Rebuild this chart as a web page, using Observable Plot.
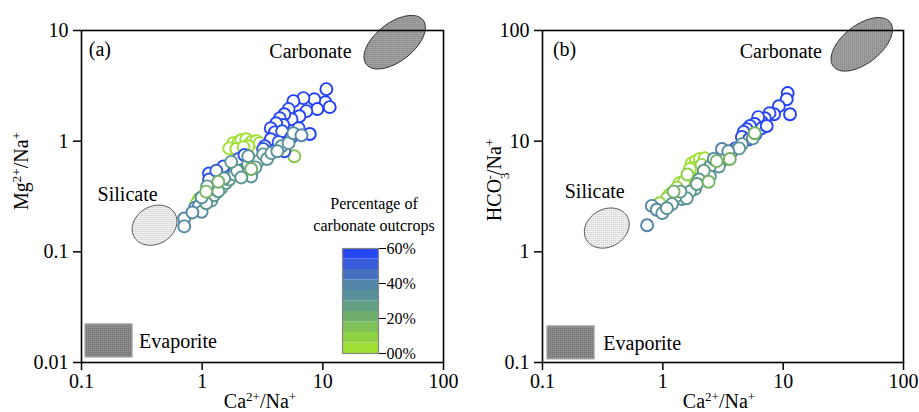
<!DOCTYPE html>
<html><head><meta charset="utf-8">
<script src="https://cdn.jsdelivr.net/npm/d3@7"></script>
<script src="https://cdn.jsdelivr.net/npm/@observablehq/plot@0.6"></script>
<style>
body{margin:0;background:#fff;}
#wrap{position:relative;width:919px;height:412px;font-family:"Liberation Serif",serif;}
#wrap > div{position:absolute;top:0;}
</style></head><body>
<svg width="0" height="0" style="position:absolute">
  <defs>
    <pattern id="stipCarb" width="2" height="2" patternUnits="userSpaceOnUse"><rect width="2" height="2" fill="#a6a6a6"/><rect width="1" height="1" fill="#707070"/></pattern>
    <pattern id="stipSil" width="2" height="2" patternUnits="userSpaceOnUse"><rect width="2" height="2" fill="#f2f2f2"/><rect width="1" height="1" fill="#c4c4c4"/></pattern>
    <pattern id="stipEvap" width="2" height="2" patternUnits="userSpaceOnUse"><rect width="2" height="2" fill="#8c8c8c"/><rect width="1" height="1" fill="#6c6c6c"/></pattern>
  </defs>
</svg>
<div id="wrap"><div id="pa" style="left:0"></div><div id="pb" style="left:460px"></div><div id="leg" style="left:342px;top:238px"></div></div>
<script>
// ---- Panel (a): Ca2+/Na+ vs Mg2+/Na+ ----
const caA  = [10.7,10.5,11.4,8.5,9.0,6.9,7.3,5.7,5.2,6.4,5.5,4.8,4.4,4.7,4.1,3.7,4.0,4.6,3.7,4.3,5.5,7.8,6.3,3.3,3.4,4.8,1.14,1.14,1.5,2.0,2.24,3.2,1.31,
  0.71,0.71,0.87,0.94,0.99,0.83,1.44,1.58,1.68,1.85,2.24,2.55,2.41,2.92,3.2,3.45,4.54,5.2,5.7,6.65,1.19,1.26,1.08,1.23,1.36,1.52,1.95,2.11,2.76,3.75,4.2,0.99,1.1,1.74,2.41,
  1.81,2.0,2.11,2.32,2.55,2.81,3.0,2.41,1.68,1.92,2.2,1.04,0.94,0.89,1.65,1.44,1.31,1.81,1.36,5.8,2.55,1.08];
const mgA  = [2.95,2.25,2.03,2.39,1.95,2.45,1.87,2.3,1.95,1.68,1.58,1.75,1.61,1.4,1.45,1.31,1.2,1.23,1.04,0.98,1.09,1.16,1.31,0.9,0.78,0.81,0.51,0.45,0.59,0.69,0.75,0.85,0.54,
  0.20,0.17,0.25,0.26,0.23,0.227,0.376,0.42,0.45,0.5,0.54,0.48,0.62,0.66,0.76,0.69,0.9,0.96,1.18,1.13,0.29,0.325,0.275,0.37,0.353,0.46,0.54,0.47,0.58,0.78,0.81,0.31,0.39,0.65,0.73,
  0.96,0.98,1.02,1.04,0.98,1.0,0.96,0.9,0.86,0.85,0.88,0.32,0.30,0.27,0.56,0.45,0.41,0.62,0.43,0.73,0.56,0.35];
const pctA = [60,58,60,58,60,57,58,60,55,58,56,58,55,57,58,56,58,55,57,55,58,60,57,55,52,55,55,55,55,52,55,52,50,
  38,38,40,40,35,38,30,30,28,30,30,32,30,30,32,30,35,33,35,38,30,32,30,28,30,30,30,30,32,32,33,35,30,30,32,
  3,2,3,2,3,2,4,3,3,4,3,8,8,5,10,12,10,8,20,12,20,18];

// ---- Panel (b): Ca2+/Na+ vs HCO3-/Na+ ----
const caB   = [10.9,10.7,11.4,9.2,8.4,7.7,7.05,6.65,6.2,5.8,5.3,5.0,4.7,4.54,5.2,5.9,4.0,3.75,6.65,7.3,
  4.54,4.3,5.6,3.1,3.3,2.92,2.46,2.46,2.19,2.0,1.85,1.68,1.44,1.31,1.19,0.81,0.89,0.99,0.74,1.08,1.58,2.65,3.5,1.92,1.4,
  1.74,1.88,2.03,2.23,1.8,1.68,1.38,1.5,1.31,1.14,1.08,0.94,2.1,1.6,3.6,5.8,2.4,2.8,1.23];
const hco3B = [27.2,23.9,17.5,20.7,17.5,17.9,16.1,14.9,16.5,14.3,13.7,12.8,12.1,10.9,10.4,11.6,8.6,8.1,13.1,13.7,
  9.4,8.6,10.6,8.5,6.9,5.9,5.9,4.8,5.4,4.5,3.7,3.5,3.0,3.2,2.7,2.6,2.4,2.24,1.74,2.48,3.05,6.9,8.1,4.1,3.5,
  6.3,6.6,6.9,7.0,5.7,5.6,4.2,4.3,3.8,3.3,3.05,2.75,6.1,5.0,6.9,11.8,4.3,6.6,3.5];
const pctB  = [60,58,60,58,58,57,58,56,57,58,55,57,55,56,55,56,52,50,57,58,
  35,30,35,40,35,30,30,30,28,30,30,32,30,30,32,38,38,35,40,32,30,35,35,28,30,
  3,2,3,2,4,3,5,4,6,5,8,8,8,10,20,20,18,20,20];

// ---- colour scale / legend ----
const pctStops  = [0,10,20,30,40,50,60];
const pctColors = ["#a8e62a","#8ccf48","#72b066","#5a9690","#5082aa","#3c60d8","#1e3cff"];
const legendBands = [0,6,12,18,24,30,36,42,48,54];
const legendTicks = [0,20,40,60];

// ---- axes ----
const xTicks  = [0.1,1,10,100];
const yTicksA = [0.01,0.1,1,10];
const yTicksB = [0.1,1,10,100];

// ---- end-member fields ----
const regionLabels   = ["Carbonate","Silicate","Evaporite"];
const carbCenterA = [39.4, 7.84], carbCenterB = [45, 75];
const silCenterA  = [0.403, 0.174], silCenterB = [0.342, 1.64];
const evapXA = [0.108, 0.265], evapYA = [0.0111, 0.0221];
const evapXB = [0.110, 0.271], evapYB = [0.1067, 0.212];
const labelXA = [0.115, 17.3, 0.136, 0.30], labelYA = [6.78, 6.5, 0.332, 0.0153];
const labelXB = [0.122, 21, 0.153, 0.32],   labelYB = [67.8, 65, 3.53, 0.147];

const fmt = d3.format("~g");
const colorScale = {type:"linear", domain: pctStops, range: pctColors, interpolate:"rgb"};

function ellipseSymbol(ratio, deg) {
  const t = deg*Math.PI/180, c = Math.cos(t), s = Math.sin(t);
  return {draw(ctx, size) {
    const a = Math.sqrt(size/Math.PI), b = a*ratio, n = 72;
    for (let i = 0; i < n; i++) {
      const u = 2*Math.PI*i/n, ex = a*Math.cos(u), ey = b*Math.sin(u);
      const px = ex*c - ey*s, py = ex*s + ey*c;
      if (i) ctx.lineTo(px, py); else ctx.moveTo(px, py);
    }
    ctx.closePath();
  }};
}

function rowsOf(xs, ys, ps) {
  const rows = xs.map((x,i) => ({x, y: ys[i], p: ps[i]}));
  const key = p => p < 15 ? 0 : p > 45 ? 1 : 2;
  return rows.sort((a,b) => key(a.p) - key(b.p));
}

function panel({width, ml, mr, ydom, yticks, rows, carb, sil, evx, evy, lx, ly, tag}) {
  const labels = [tag, ...regionLabels].map((t,i) => ({t, x: lx[i], y: ly[i]}));
  const svg = Plot.plot({
    width, height: 412, marginLeft: ml, marginRight: mr, marginTop: 30, marginBottom: 50,
    style: {fontFamily: "Liberation Serif", fontSize: "20px", color: "#000", background: "transparent", overflow: "visible"},
    x: {type: "log", domain: [0.1,100], ticks: xTicks, tickFormat: fmt, tickSize: 8, tickPadding: 3, label: null},
    y: {type: "log", domain: ydom, ticks: yticks, tickFormat: fmt, tickSize: 8, tickPadding: 5, label: null},
    color: colorScale,
    marks: [
      Plot.rect([{x1: evx[0], x2: evx[1], y1: evy[0], y2: evy[1]}], {x1: "x1", x2: "x2", y1: "y1", y2: "y2", fill: "url(#stipEvap)", stroke: "#a5a5a5", strokeWidth: 1.2}),
      Plot.dot([{x: sil[0], y: sil[1]}], {x: "x", y: "y", r: 23.5, symbol: ellipseSymbol(0.8, -30), fill: "url(#stipSil)", stroke: "#555", strokeWidth: 1}),
      Plot.dot([{x: carb[0], y: carb[1]}], {x: "x", y: "y", r: 36, symbol: ellipseSymbol(0.53, -38), fill: "url(#stipCarb)", stroke: "#333", strokeWidth: 1}),
      Plot.text(labels.filter((d,i) => i !== 1), {x: "x", y: "y", text: "t", textAnchor: "start", fontSize: 20, fill: "#000"}),
      Plot.text(labels.filter((d,i) => i === 1), {x: "x", y: "y", text: "t", textAnchor: "end", fontSize: 20, fill: "#000"}),
      Plot.dot(rows, {x: "x", y: "y", stroke: "p", fill: "white", r: 6, strokeWidth: 1.9}),
      Plot.frame({stroke: "#000", strokeWidth: 1.6})
    ]
  });
  d3.select(svg).selectAll('g[aria-label$="tick"]').attr("stroke-width", 1.5);
  return svg;
}

function addLabel(svg, parts, x, y, rotate) {
  const t = d3.select(svg).append("text")
    .attr("transform", `translate(${x},${y})` + (rotate ? " rotate(-90)" : ""))
    .attr("text-anchor", "middle").attr("font-family", "Liberation Serif").attr("font-size", 20).attr("fill", "#000");
  for (const [s, kind, dx] of parts) {
    const ts = t.append("tspan").text(s);
    if (kind === "sup") ts.attr("baseline-shift", "super").attr("font-size", 13);
    if (kind === "sub") ts.attr("baseline-shift", "sub").attr("font-size", 13);
    if (dx) ts.attr("dx", dx);
  }
}

const svgA = panel({width: 460, ml: 81, mr: 17, ydom: [0.01,10], yticks: yTicksA, rows: rowsOf(caA, mgA, pctA),
  carb: carbCenterA, sil: silCenterA, evx: evapXA, evy: evapYA, lx: labelXA, ly: labelYA, tag: "(a)"});
const svgB = panel({width: 459, ml: 82, mr: 16, ydom: [0.1,100], yticks: yTicksB, rows: rowsOf(caB, hco3B, pctB),
  carb: carbCenterB, sil: silCenterB, evx: evapXB, evy: evapYB, lx: labelXB, ly: labelYB, tag: "(b)"});

const caLabel = [["Ca"],["2+","sup"],["/Na"],["+","sup"]];
addLabel(svgA, caLabel, 260, 408, false);
addLabel(svgA, [["Mg"],["2+","sup"],["/Na"],["+","sup"]], 28, 171, true);
addLabel(svgB, caLabel, 259, 408, false);
addLabel(svgB, [["HCO"],["3","sub"],["-","sup",-7],["/Na"],["+","sup"]], 41, 180, true);

// legend title
for (const [s, y] of [["Percentage of", 209], ["carbonate outcrops", 231]]) {
  d3.select(svgA).append("text").attr("x", 374).attr("y", y).attr("text-anchor", "middle")
    .attr("font-family", "Liberation Serif").attr("font-size", 16).attr("fill", "#000").text(s);
}

document.getElementById("pa").appendChild(svgA);
document.getElementById("pb").appendChild(svgB);

const legend = Plot.plot({
  width: 100, height: 125, marginLeft: 0, marginRight: 64, marginTop: 10, marginBottom: 10,
  style: {fontFamily: "Liberation Serif", fontSize: "16px", color: "#000", background: "transparent", overflow: "visible"},
  x: {domain: [0,1], axis: null},
  y: {domain: [0,60], ticks: legendTicks, tickFormat: d => String(d).padStart(2,"0") + "%", tickSize: 7, tickPadding: 1, axis: "right", label: null},
  color: colorScale,
  marks: [
    Plot.rect(legendBands, {x1: 0, x2: 1, y1: d => d, y2: d => d + 6, fill: d => d + 3}),
    Plot.frame({stroke: "#888", strokeWidth: 1.2})
  ]
});
document.getElementById("leg").appendChild(legend);
</script></body></html>
